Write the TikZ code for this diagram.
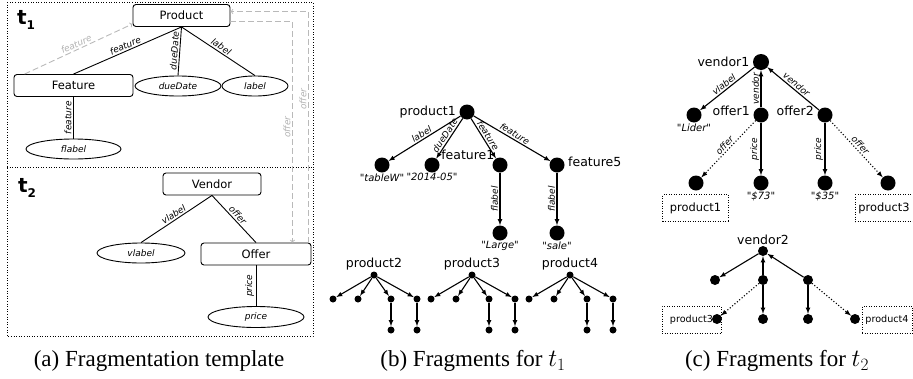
\documentclass[tikz,border=0pt]{standalone}
\usepackage{fontspec}
\setmainfont{Liberation Serif}
\newfontfamily\dejavu{DejaVu Sans}
\usetikzlibrary{arrows,shapes.geometric}

\begin{document}
\begin{tikzpicture}[x=1pt,y=-1pt,
        cls/.style={draw,rounded corners=3pt,line width=0.9pt,inner sep=0pt,minimum height=22pt,font=\dejavu\fontsize{11.5}{12}\selectfont},
        att/.style={draw,ellipse,line width=0.9pt,inner sep=0pt,minimum height=20pt,font=\dejavu\itshape\fontsize{9}{10}\selectfont},
        elab/.style={font=\dejavu\itshape\fontsize{9}{10}\selectfont,inner sep=1.5pt},
        vlab/.style={elab,rotate=90,anchor=south},
        tmpl/.style={gray!55,line width=0.9pt,dash pattern=on 6pt off 3pt},
        res/.style={circle,fill,inner sep=0pt,minimum size=15pt},
        sres/.style={circle,fill,inner sep=0pt,minimum size=7pt},
        iname/.style={font=\dejavu\fontsize{12.5}{13}\selectfont},
        val/.style={font=\dejavu\itshape\fontsize{10}{11}\selectfont,inner sep=0.5pt},
        rel/.style={-latex,line width=1.1pt},
        refbox/.style={draw,dotted,line width=0.5pt,inner sep=0pt,minimum height=27pt,font=\dejavu\fontsize{11.4}{12}\selectfont},
        capt/.style={font=\fontsize{23}{26}\selectfont}]
        \useasboundingbox (0,0) rectangle (913,378);
        % (a) template
        \draw[dotted,line width=0.6pt] (7,2) rectangle (313,336);
        \draw[dotted,line width=0.6pt] (7,167) -- (313,167);
        \node[font=\dejavu\bfseries\fontsize{20}{20}\selectfont] (t1) at (26,20) {t\raisebox{-5pt}{\fontsize{12}{12}\selectfont 1}};
        \node[font=\dejavu\bfseries\fontsize{20}{20}\selectfont] (t2) at (27,188) {t\raisebox{-5pt}{\fontsize{12}{12}\selectfont 2}};
        \node[cls,minimum width=97pt] (prod) at (181.5,15.5) {Product};
        \node[cls,minimum width=119pt] (feat) at (73.5,85.5) {Feature};
        \node[att,minimum width=86pt] (due) at (178,86) {dueDate};
        \node[att,minimum width=66pt] (lab) at (255,86) {label};
        \node[att,minimum width=95pt] (flab) at (73.5,149) {flabel};
        \node[cls,minimum width=98pt] (vend) at (212,184) {Vendor};
        \node[att,minimum width=88pt] (vlabl) at (141,253) {vlabel};
        \node[cls,minimum width=110pt] (off) at (256,254) {Offer};
        \node[att,minimum width=96pt,minimum height=21pt] (pri) at (256,317) {price};
        \draw[line width=0.9pt] (prod.south) -- node[elab,sloped,above] {feature} (feat.north);
        \draw[line width=0.9pt] (prod.south) -- node[elab,sloped,above] {dueDate} (due.north);
        \draw[line width=0.9pt] (prod.south) -- node[elab,sloped,above] {label} (lab.north);
        \draw[line width=0.9pt] (feat.south) -- node[vlab] {feature} (flab.north);
        \draw[line width=0.9pt] (vend.south) -- node[elab,sloped,above] {vlabel} (vlabl.north);
        \draw[line width=0.9pt] (vend.south) -- node[elab,sloped,above] {offer} (off.north);
        \draw[line width=0.9pt] (off.south) -- node[vlab] {price} (pri.north);
        \draw[tmpl,->] ([xshift=11pt]feat.north west) -- node[elab,sloped,above,gray!60] {feature} ([yshift=3pt]prod.south west);
        \draw[tmpl,->] ([xshift=-3pt]off.north east) |- node[vlab,pos=0.31,gray!60] {offer} ([yshift=4pt]prod.east);
        \draw[tmpl,->] ([yshift=-5.5pt]prod.east) -| node[vlab,pos=0.74,gray!60] {offer} ([xshift=-19pt]off.north east);
        % (b) fragments for t1
        \node[res,label={[iname]left:product1}] (p1) at (467,112) {};
        \node[res,label={[val]below:"tableW"}] (tw) at (382,165) {};
        \node[res,label={[val]below:"2014-05"}] (dd) at (432,165) {};
        \node[res,label={[iname,inner sep=0pt]north west:feature1}] (f1) at (500,165) {};
        \node[res,label={[iname,yshift=3pt]right:feature5}] (f5) at (557,165) {};
        \node[res,label={[val]below:"Large"}] (lg) at (500,233) {};
        \node[res,label={[val]below:"sale"}] (sl) at (557,233) {};
        \draw[rel] (p1) -- node[elab,sloped,above] {label} (tw);
        \draw[rel] (p1) -- node[elab,sloped,above] {dueDate} (dd);
        \draw[rel] (p1) -- node[elab,sloped,above] {feature} (f1);
        \draw[rel] (p1) -- node[elab,sloped,above] {feature} (f5);
        \draw[rel] (f1) -- node[vlab] {flabel} (lg);
        \draw[rel] (f5) -- node[vlab] {flabel} (sl);
        \foreach \n/\x in {2/374,3/472,4/570}{
            \node[sres,label={[iname,inner sep=1pt]above:product\n}] (p\n) at (\x,275) {};
            \foreach \k/\dx in {a/-41,b/-16,c/17,d/43}
                \node[sres] (p\n\k) at (\x+\dx,299) {};
            \node[sres] (p\n e) at (\x+17,330) {};
            \node[sres] (p\n f) at (\x+43,330) {};
            \foreach \k in {a,b,c,d}
                \draw[rel] (p\n) -- (p\n\k);
            \draw[rel] (p\n c) -- (p\n e);
            \draw[rel] (p\n d) -- (p\n f);
        }
        % (c) fragments for t2
        \node[refbox,minimum width=66pt] (b1) at (695.5,208) {product1};
        \node[refbox,minimum width=58pt] (b3) at (884,208) {product3};
        \node[res,minimum size=16pt,label={[iname]left:vendor1}] (v1) at (761,62) {};
        \node[res,label={[val]below:"Lider"}] (li) at (694,115) {};
        \node[res,label={[iname,yshift=4pt]left:offer1}] (o1) at (761,115) {};
        \node[res,label={[iname,yshift=4pt]left:offer2}] (o2) at (825,115) {};
        \node[res] (r1) at (696,183) {};
        \node[res,label={[val]below:"\$73"}] (m1) at (761,183) {};
        \node[res,label={[val]below:"\$35"}] (m2) at (825,183) {};
        \node[res] (r3) at (888,183) {};
        \draw[rel] (v1) -- node[elab,sloped,above] {vlabel} (li);
        \draw[rel] (o1) -- node[vlab] {vendor} (v1);
        \draw[rel] (o2) -- node[elab,sloped,above] {vendor} (v1);
        \draw[rel,dotted] (o1) -- node[elab,sloped,above] {offer} (r1);
        \draw[rel,dotted] (o2) -- node[elab,sloped,above] {offer} (r3);
        \draw[rel] (o1) -- node[vlab] {price} (m1);
        \draw[rel] (o2) -- node[vlab] {price} (m2);
        \node[refbox,minimum width=59pt,font=\dejavu\fontsize{9.6}{10}\selectfont] (b4) at (691.5,319.5) {product3\hspace{5pt}};
        \node[refbox,minimum width=50pt,font=\dejavu\fontsize{9.6}{10}\selectfont] (b5) at (887,319.5) {product4};
        \node[res,minimum size=10pt,label={[iname,inner sep=1pt]above:vendor2}] (v2) at (763,251) {};
        \node[res,minimum size=10pt] (w1) at (715,280) {};
        \node[res,minimum size=10pt] (w2) at (763,280) {};
        \node[res,minimum size=10pt] (w3) at (808,280) {};
        \node[res,minimum size=10pt] (w4) at (717,319) {};
        \node[res,minimum size=10pt] (w5) at (763,319) {};
        \node[res,minimum size=10pt] (w6) at (808,319) {};
        \node[res,minimum size=10pt] (w7) at (855,319) {};
        \draw[rel] (v2) -- (w1);
        \draw[rel] (w2) -- (v2);
        \draw[rel] (w3) -- (v2);
        \draw[rel] (w2) -- (w5);
        \draw[rel] (w3) -- (w6);
        \draw[rel,dotted] (w2) -- (w4);
        \draw[rel,dotted] (w3) -- (w7);
        % captions
        \node[capt] (ca) at (159,361) {(a) Fragmentation template};
        \node[capt] (cb) at (473,361) {(b) Fragments for $t_1$};
        \node[capt] (cc) at (777,361) {(c) Fragments for $t_2$};
    \end{tikzpicture}
\end{document}
